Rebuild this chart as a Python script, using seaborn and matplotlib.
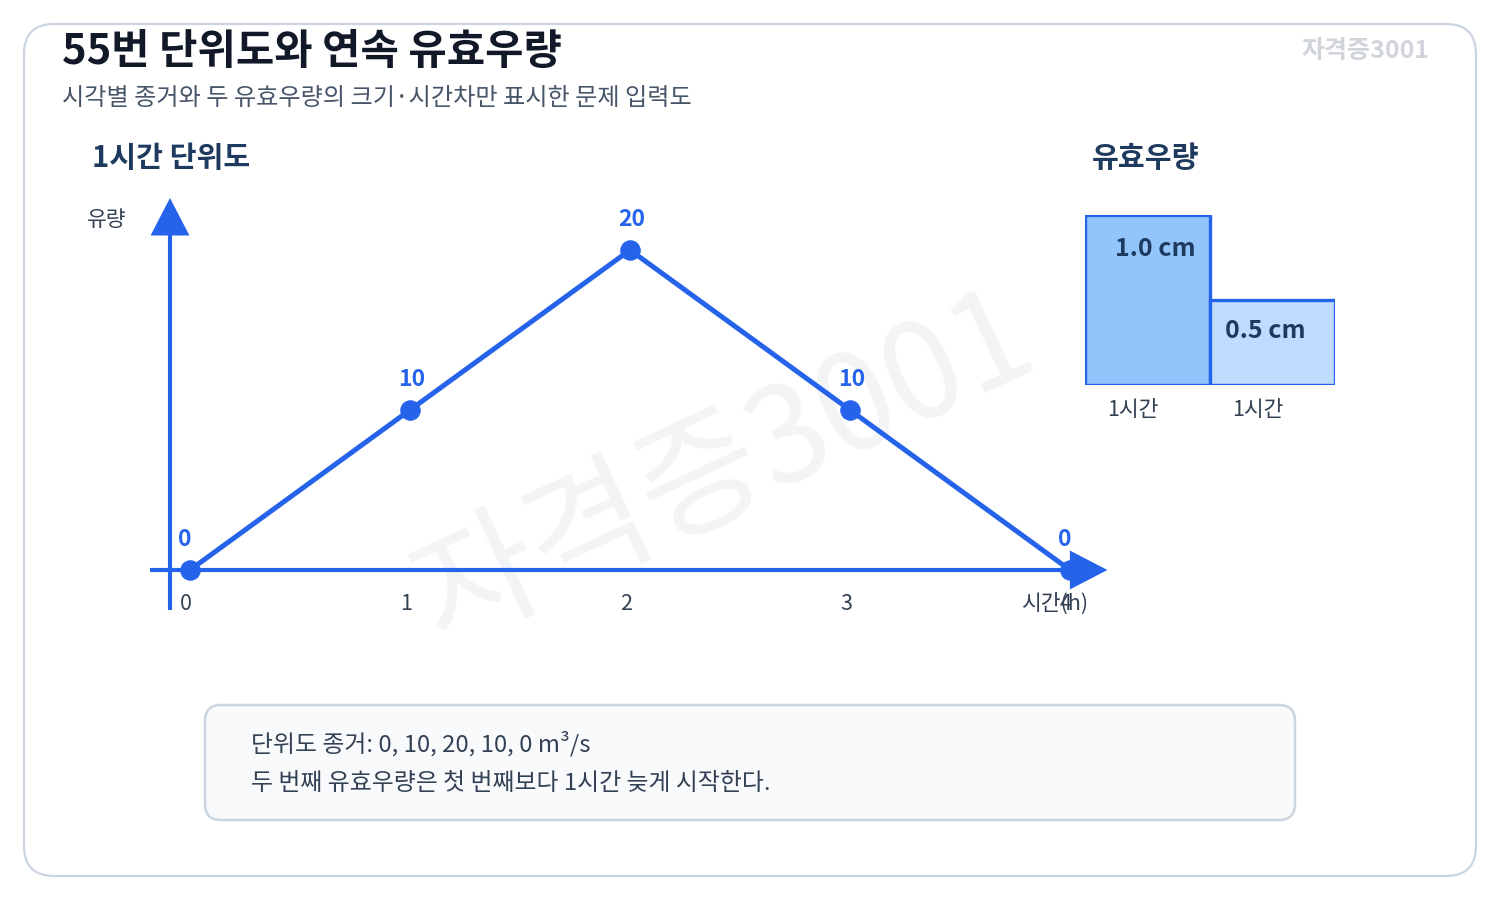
import matplotlib
matplotlib.use("Agg")
import matplotlib.pyplot as plt
import seaborn as sns
from matplotlib.patches import FancyBboxPatch
from matplotlib.transforms import IdentityTransform

sns.set_theme(style="white")
plt.rcParams["font.family"] = ["Noto Sans CJK KR", "DejaVu Sans"]

# 단위도 데이터
hours = [0, 1, 2, 3, 4]
flows = [0, 10, 20, 10, 0]

# 유효우량 데이터
rain_labels = ["첫 번째", "두 번째"]
rain_values = [1.0, 0.5]
rain_durations = ["1시간", "1시간"]
rain_colors = ["#93c5fd", "#bfdbfe"]

BLUE = "#2563eb"
NAVY = "#1e3a5f"
W, H = 1500, 900

fig = plt.figure(figsize=(15, 9), dpi=100)
fig.patch.set_facecolor("white")

# 바깥 테두리
fig.patches.append(FancyBboxPatch((24, H - 876), 1452, 852,
                                  boxstyle="round,pad=0,rounding_size=30",
                                  transform=IdentityTransform(), facecolor="white",
                                  edgecolor="#cbd5e1", linewidth=1.6, zorder=-2))

def fx(x):
    return x / W

def fy(y):
    return 1 - y / H

fig.text(fx(62), fy(52), "55번 단위도와 연속 유효우량", fontsize=30, fontweight="bold",
         color="#111827", va="center", ha="left")
fig.text(fx(62), fy(98), "시각별 종거와 두 유효우량의 크기·시간차만 표시한 문제 입력도",
         fontsize=17.4, color="#475569", va="center", ha="left")
fig.text(fx(1366), fy(51), "자격증3001", fontsize=18, fontweight="bold", color="#d1d5db",
         va="center", ha="center")
fig.text(fx(92), fy(158), "1시간 단위도", fontsize=21, fontweight="bold", color=NAVY,
         va="center", ha="left")
fig.text(fx(1092), fy(158), "유효우량", fontsize=21, fontweight="bold", color=NAVY,
         va="center", ha="left")

# 워터마크
fig.text(fx(725), fy(470), "자격증3001", fontsize=96, color="#f3f4f6",
         rotation=25, va="center", ha="center", zorder=-1)

# 단위도
ax = fig.add_axes([fx(80), (H - 650) / H, 1100 / W, 480 / H])
ax.patch.set_alpha(0)

ax.plot([-0.18, 4.0], [0, 0], color=BLUE, lw=3, solid_capstyle="butt", zorder=2)
ax.plot([-0.091, -0.091], [-2.5, 22], color=BLUE, lw=3, solid_capstyle="butt", zorder=2)
ax.annotate("", xy=(4.17, 0), xytext=(3.98, 0),
            arrowprops=dict(arrowstyle="-|>,head_length=1.35,head_width=0.7",
                            mutation_scale=20, color=BLUE, lw=0, shrinkA=0, shrinkB=0))
ax.annotate("", xy=(-0.091, 23.25), xytext=(-0.091, 20.8),
            arrowprops=dict(arrowstyle="-|>,head_length=1.35,head_width=0.7",
                            mutation_scale=20, color=BLUE, lw=0, shrinkA=0, shrinkB=0))

sns.lineplot(x=hours, y=flows, ax=ax, color=BLUE, linewidth=3.6, marker="o",
             markersize=14, markeredgecolor=BLUE, zorder=3)
ax.set_xlim(-0.5, 4.5)
ax.set_ylim(-5, 25)
ax.axis("off")

for h, f in zip(hours, flows):
    ax.text(h - 12 / 220, f + 1.9, str(f), fontsize=16.5, fontweight="bold", color=BLUE,
            ha="left", va="center")
    ax.text(h - 10 / 220, -2.1, str(h), fontsize=15.5, color="#334155", ha="left", va="center")
ax.text(3.777, -2.1, "시간(h)", fontsize=15.5, color="#334155", ha="left", va="center")
ax.text(-0.377, 21.9, "유량", fontsize=15.5, color="#334155", ha="center", va="center")

# 유효우량 막대
ax2 = fig.add_axes([fx(1085), (H - 385) / H, 250 / W, 170 / H])
sns.barplot(x=rain_labels, y=rain_values, hue=rain_labels, palette=rain_colors,
            width=1, saturation=1, edgecolor=BLUE, linewidth=2.4, legend=False, ax=ax2)
ax2.set_xlim(-0.5, 1.5)
ax2.set_ylim(0, 1.0)
ax2.axis("off")
for i, v in enumerate(rain_values):
    ax2.text(i + (0.06 if i == 0 else -0.06), v - 0.2 if i == 0 else v - 0.18,
             f"{v:.1f} cm", fontsize=18, fontweight="bold", color=NAVY,
             ha="center", va="center")
    ax2.text(i - 0.12, -0.15, rain_durations[i], fontsize=15.5, color="#334155",
             ha="center", va="center", clip_on=False)

# 하단 설명 상자
fig.patches.append(FancyBboxPatch((205, H - 820), 1090, 115,
                                  boxstyle="round,pad=0,rounding_size=16",
                                  transform=IdentityTransform(), facecolor="#f8fafc",
                                  edgecolor="#cbd5e1", linewidth=1.8, zorder=-1))
fig.text(fx(251), fy(744), "단위도 종거: 0, 10, 20, 10, 0 m³/s", fontsize=17.2,
         color="#334155", va="center", ha="left")
fig.text(fx(251), fy(783), "두 번째 유효우량은 첫 번째보다 1시간 늦게 시작한다.", fontsize=17.2,
         color="#334155", va="center", ha="left")

fig.savefig("out.png", dpi=100)
